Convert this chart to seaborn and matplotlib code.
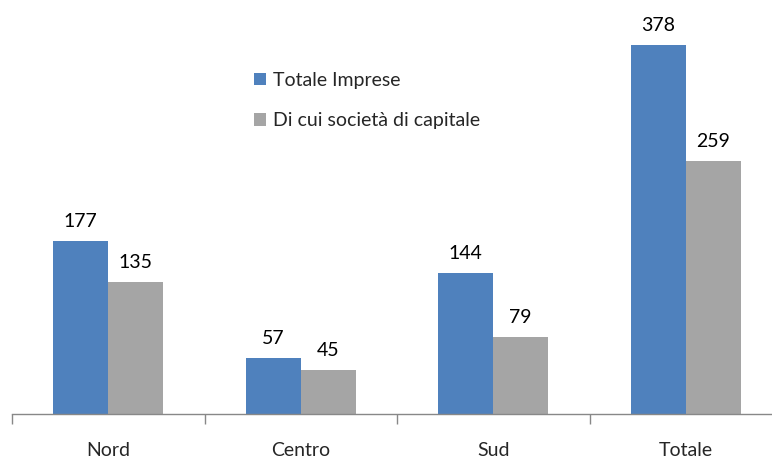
import matplotlib
matplotlib.use("Agg")
import matplotlib.pyplot as plt
import seaborn as sns
import pandas as pd
import numpy as np

categories = ["Nord", "Centro", "Sud", "Totale"]
series_names = ["Totale Imprese", "Di cui società di capitale"]
totale_imprese = [177, 57, 144, 378]
societa_capitale = [135, 45, 79, 259]
colors = ["#4F81BD", "#A5A5A5"]

df = pd.DataFrame({
    "cat": categories * 2,
    "serie": [series_names[0]] * 4 + [series_names[1]] * 4,
    "val": totale_imprese + societa_capitale,
})

sns.set_theme(style="white")
plt.rcParams["font.family"] = ["Lato", "DejaVu Sans"]

fig = plt.figure(figsize=(7.72, 4.59), dpi=100)
ax = fig.add_axes([12 / 772, 45 / 459, 770 / 772, 390.4 / 459])

sns.barplot(data=df, x="cat", y="val", hue="serie", order=categories,
            hue_order=series_names, palette=colors, width=0.571,
            saturation=1, ax=ax, errorbar=None, linewidth=0)

for cont in ax.containers:
    ax.bar_label(cont, padding=8, fontsize=14, color="black")

ax.set_xlim(-0.5, 3.5)
ax.set_ylim(0, 400)
ax.set_xlabel("")
ax.set_ylabel("")
ax.set_yticks([])
for s in ["top", "right", "left"]:
    ax.spines[s].set_visible(False)
ax.spines["bottom"].set_color("#888888")
ax.spines["bottom"].set_linewidth(1)
ax.set_xticks(range(4))
ax.set_xticklabels(categories, fontsize=14)
ax.tick_params(axis="x", which="major", length=0, pad=20)
ax.set_xticks([-0.5, 0.5, 1.5, 2.5, 3.5], minor=True)
ax.tick_params(axis="x", which="minor", length=7, width=1, color="#888888", bottom=True)

leg = ax.legend(loc="upper left", bbox_to_anchor=(254 / 772, 1 - 72 / 459),
                bbox_transform=fig.transFigure, frameon=False, fontsize=14,
                handlelength=0.6, handleheight=0.6, handletextpad=0.4,
                labelspacing=1.2, borderpad=0, borderaxespad=0)

fig.savefig("out.png", dpi=100)
